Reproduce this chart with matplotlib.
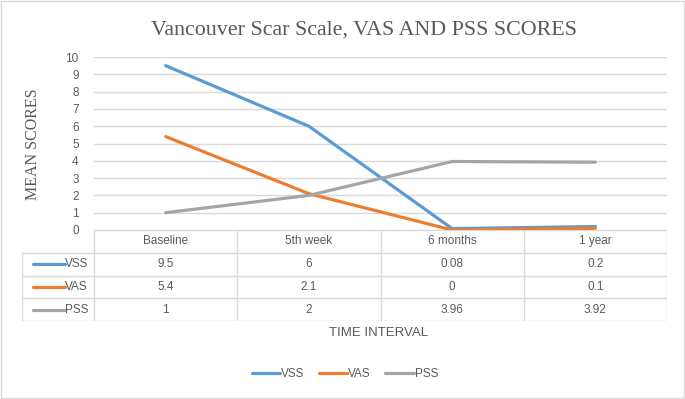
import matplotlib.pyplot as plt

categories = ["Baseline", "5th week", "6 months", "1 year"]
series_names = ["VSS", "VAS", "PSS"]
vss = [9.5, 6, 0.08, 0.2]
vas = [5.4, 2.1, 0, 0.1]
pss = [1, 2, 3.96, 3.92]
table_text = [["9.5", "6", "0.08", "0.2"],
              ["5.4", "2.1", "0", "0.1"],
              ["1", "2", "3.96", "3.92"]]
colors = ["#5b9bd5", "#ed7d31", "#a5a5a5"]

W, H = 685, 399
sans = "Liberation Sans"
serif = "Liberation Serif"
txt = "#595959"
grid = "#d9d9d9"

fig = plt.figure(figsize=(W / 100, H / 100), dpi=100)

# outer frame
fig.patches.append(plt.Rectangle((0.002, 0.003), 0.996, 0.994, transform=fig.transFigure,
                                 fill=False, edgecolor="#d9d9d9", linewidth=1))

x_left, x_right = 94, 667
y_top, y_bot = 57, 230
ax = fig.add_axes([x_left / W, 1 - y_bot / H, (x_right - x_left) / W, (y_bot - y_top) / H])

xs = [i + 0.5 for i in range(len(categories))]
for vals, col in zip([vss, vas, pss], colors):
    ax.plot(xs, vals, color=col, linewidth=2.3, solid_capstyle="round", zorder=3)

ax.set_xlim(0, 4)
ax.set_ylim(0, 10)
ax.set_yticks(range(11))
ax.set_xticks([])
ax.grid(axis="y", color=grid, linewidth=1)
for s in ax.spines.values():
    s.set_visible(False)
ax.tick_params(axis="y", length=0, pad=11, labelsize=8.5, labelcolor=txt)
for lab in ax.get_yticklabels():
    lab.set_fontfamily(sans)

fig.text(33 / W, 1 - 144 / H, "MEAN SCORES", rotation=90, ha="center", va="center",
         fontsize=11.5, family=serif, color=txt)
fig.suptitle("Vancouver Scar Scale, VAS AND PSS SCORES", x=364 / W, y=1 - 30 / H,
             ha="center", va="center", fontsize=15.8, family=serif, color=txt)

# data table
t_left, t_bot = 22, 321
per = (x_right - x_left) / 4
xmin_t = (t_left - x_left) / per
tab = fig.add_axes([t_left / W, 1 - t_bot / H, (x_right - t_left) / W, (t_bot - y_bot) / H])
tab.set_xlim(xmin_t, 4)
tab.set_ylim(4, 0)
tab.axis("off")
lc = "#d9d9d9"
tab.plot([0, 4], [0, 0], color=lc, lw=1)
for r in range(1, 5):
    tab.plot([xmin_t, 4], [r, r], color=lc, lw=1)
tab.plot([xmin_t, xmin_t], [1, 4], color=lc, lw=1)
for c in range(5):
    tab.plot([c, c], [0, 4], color=lc, lw=1)
for i, cat in enumerate(categories):
    tab.text(i + 0.5, 0.5, cat, ha="center", va="center", fontsize=8.5, family=sans, color=txt)
for r, (name, col, row) in enumerate(zip(series_names, colors, table_text)):
    y = r + 1.5
    tab.plot([xmin_t + 0.08, xmin_t + 0.3], [y, y], color=col, lw=2.3, solid_capstyle="round")
    tab.text(xmin_t + 0.30, y, name, ha="left", va="center", fontsize=8.5, family=sans, color=txt)
    for i, v in enumerate(row):
        tab.text(i + 0.5, y, v, ha="center", va="center", fontsize=8.5, family=sans, color=txt)

fig.text(379 / W, 1 - 333 / H, "TIME INTERVAL", ha="center", va="center",
         fontsize=9.5, family=sans, color=txt)

# legend
handles = [plt.Line2D([], [], color=c, lw=2.3, solid_capstyle="round") for c in colors]
fig.legend(handles, series_names, loc="center", bbox_to_anchor=(345 / W, 1 - 374 / H),
           ncol=3, frameon=False, handlelength=2.4, handletextpad=0.1, columnspacing=1.2,
           prop={"family": sans, "size": 8.5}, labelcolor=txt)

fig.savefig("out.png", dpi=100)
